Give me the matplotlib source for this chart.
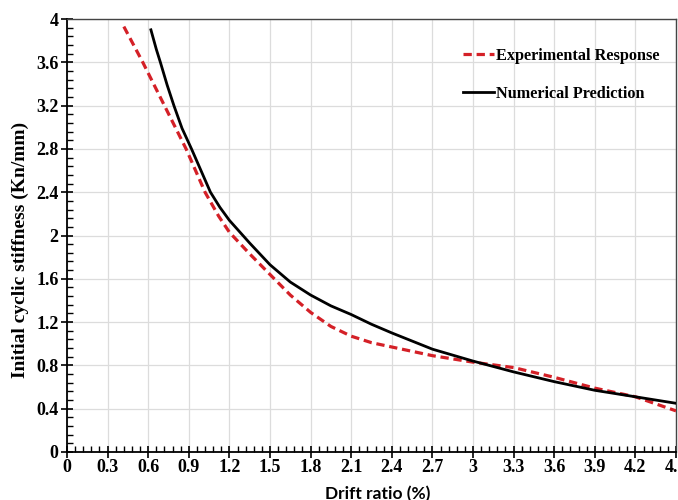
import matplotlib
matplotlib.use("Agg")
import matplotlib.pyplot as plt
from matplotlib.ticker import MultipleLocator, FixedLocator

# Data
exp_x = [0.42, 0.56, 0.72, 0.88, 1.02, 1.12, 1.2, 1.35, 1.5, 1.65, 1.8, 1.95, 2.1, 2.25, 2.4, 2.7, 3.0, 3.3, 3.6, 3.9, 4.2, 4.5]
exp_y = [3.93, 3.6, 3.2, 2.8, 2.4, 2.18, 2.03, 1.83, 1.64, 1.45, 1.29, 1.16, 1.07, 1.01, 0.97, 0.89, 0.83, 0.78, 0.69, 0.59, 0.51, 0.38]

num_x = [0.62, 0.66, 0.69, 0.74, 0.79, 0.85, 0.92, 0.99, 1.06, 1.13, 1.2, 1.35, 1.5, 1.65, 1.8, 1.95, 2.1, 2.25, 2.4, 2.7, 3.0, 3.3, 3.6, 3.9, 4.2, 4.5]
num_y = [3.9, 3.72, 3.6, 3.39, 3.2, 2.99, 2.8, 2.6, 2.4, 2.26, 2.14, 1.93, 1.73, 1.57, 1.45, 1.35, 1.27, 1.18, 1.10, 0.95, 0.84, 0.74, 0.65, 0.57, 0.51, 0.45]

x_ticks = [0, 0.3, 0.6, 0.9, 1.2, 1.5, 1.8, 2.1, 2.4, 2.7, 3, 3.3, 3.6, 3.9, 4.2, 4.5]
x_tick_labels = ["0", "0.3", "0.6", "0.9", "1.2", "1.5", "1.8", "2.1", "2.4", "2.7", "3", "3.3", "3.6", "3.9", "4.2", "4.5"]
y_ticks = [0, 0.4, 0.8, 1.2, 1.6, 2.0, 2.4, 2.8, 3.2, 3.6, 4.0]
y_tick_labels = ["0", "0.4", "0.8", "1.2", "1.6", "2", "2.4", "2.8", "3.2", "3.6", "4"]

serif = ["Liberation Serif", "DejaVu Serif"]

fig = plt.figure(figsize=(6.78, 5.0), dpi=100)
ax = fig.add_axes([67/678, 48/500, 609/678, 433/500])

ax.plot(exp_x, exp_y, color="#d42027", lw=2.3, dashes=(2.6, 1.5),
        label="Experimental Response", zorder=3)
ax.plot(num_x, num_y, color="black", lw=2.0, label="Numerical Prediction", zorder=4,
        solid_joinstyle="round")

ax.set_xlim(0, 4.5)
ax.set_ylim(0, 4)
ax.xaxis.set_major_locator(FixedLocator(x_ticks))
ax.yaxis.set_major_locator(FixedLocator(y_ticks))
ax.xaxis.set_minor_locator(MultipleLocator(0.06))
ax.yaxis.set_minor_locator(MultipleLocator(0.08))
ax.set_xticklabels(x_tick_labels, fontfamily=serif, fontweight="bold", fontsize=13)
ax.set_yticklabels(y_tick_labels, fontfamily=serif, fontweight="bold", fontsize=13)

ax.tick_params(axis="both", which="major", direction="inout", length=8, width=1.2,
               colors="black")
ax.tick_params(axis="both", which="minor", direction="in", length=4, width=1.0)
ax.tick_params(axis="x", which="major", pad=1)
ax.tick_params(axis="y", which="major", pad=2)

ax.grid(True, which="major", color="#dcdcdc", lw=0.9, zorder=0)
ax.set_axisbelow(True)

for side in ["left", "bottom"]:
    ax.spines[side].set_color("black")
    ax.spines[side].set_linewidth(1.3)
for side in ["top", "right"]:
    ax.spines[side].set_color("#444444")
    ax.spines[side].set_linewidth(1.0)

ax.set_ylabel("Initial cyclic stiffness (Kn/mm)", fontfamily=serif, fontweight="bold",
              fontsize=14)
ax.yaxis.set_label_coords(-(67 - 20) / 609, (452 - 250) / 433)
ax.yaxis.label.set_va("center")
ax.set_xlabel("Drift ratio (%)", fontfamily=["Lato", "DejaVu Sans"], fontsize=12.5,
              fontweight="bold")
ax.xaxis.set_label_coords((378 - 67) / 609, -(494 - 452) / 433)
ax.xaxis.label.set_va("center")

leg = ax.legend(loc="upper left", bbox_to_anchor=((463 - 67) / 609, (452 - 48) / 433),
                frameon=False, borderaxespad=0, borderpad=0,
                prop={"family": serif, "weight": "bold", "size": 11.7},
                handlelength=1.9, handletextpad=0.1, labelspacing=1.35)

fig.savefig("out.png", dpi=100)
